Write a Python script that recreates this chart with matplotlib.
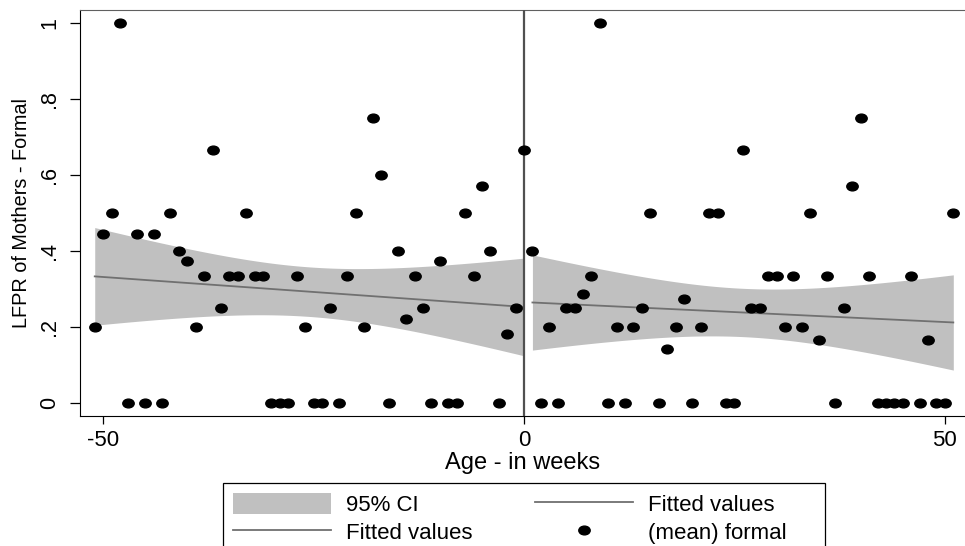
import numpy as np
import matplotlib
matplotlib.use('Agg')
import matplotlib.pyplot as plt
from matplotlib.path import Path
from matplotlib.transforms import Affine2D
from matplotlib.patches import Patch, Rectangle
from matplotlib.lines import Line2D

plt.rcParams['font.family'] = ['Liberation Sans', 'DejaVu Sans']

# binned means, weeks before the cutoff (-51..0) and after (1..51)
weeks_left = list(range(-51, 1))
formal_left = [0.2, 0.444, 0.5, 1.0, 0.0, 0.444, 0.0, 0.444, 0.0, 0.5,
               0.4, 0.375, 0.2, 0.333, 0.667, 0.25, 0.333, 0.333, 0.5, 0.333,
               0.333, 0.0, 0.0, 0.0, 0.333, 0.2, 0.0, 0.0, 0.25, 0.0,
               0.333, 0.5, 0.2, 0.75, 0.6, 0.0, 0.4, 0.222, 0.333, 0.25,
               0.0, 0.375, 0.0, 0.0, 0.5, 0.333, 0.571, 0.4, 0.0, 0.182,
               0.25, 0.667]
weeks_right = list(range(1, 52))
formal_right = [0.4, 0.0, 0.2, 0.0, 0.25, 0.25, 0.286, 0.333, 1.0, 0.0,
                0.2, 0.0, 0.2, 0.25, 0.5, 0.0, 0.143, 0.2, 0.273, 0.0,
                0.2, 0.5, 0.5, 0.0, 0.0, 0.667, 0.25, 0.25, 0.333, 0.333,
                0.2, 0.333, 0.2, 0.5, 0.167, 0.333, 0.0, 0.25, 0.571, 0.75,
                0.333, 0.0, 0.0, 0.0, 0.0, 0.333, 0.0, 0.167, 0.0, 0.0,
                0.5]

ytick_vals = [0, 0.2, 0.4, 0.6, 0.8, 1.0]
ytick_labels = ['0', '.2', '.4', '.6', '.8', '1']
xtick_vals = [-50, 0, 50]

# t(0.975) for n-2 degrees of freedom
t_crit = {50: 2.008559, 49: 2.009575}


def lfitci(x, y):
    # linear fit with 95% CI of the prediction mean (like Stata lfitci)
    x = np.asarray(x, float)
    y = np.asarray(y, float)
    n = len(x)
    X = np.column_stack([np.ones(n), x])
    beta = np.linalg.lstsq(X, y, rcond=None)[0]
    resid = y - X @ beta
    s2 = resid @ resid / (n - 2)
    xtx_inv = np.linalg.inv(X.T @ X)
    grid = np.linspace(x.min(), x.max(), 200)
    G = np.column_stack([np.ones(len(grid)), grid])
    fit = G @ beta
    se = np.sqrt(s2 * np.einsum('ij,jk,ik->i', G, xtx_inv, G))
    t = t_crit[n - 2]
    return grid, fit, fit - t * se, fit + t * se


fig = plt.figure(figsize=(9.65, 5.46), dpi=100)
ax = fig.add_axes([80/965, 130/546, 885/965, 536/546 - 130/546])

ci_col = '#c0c0c0'
fit_col = '#707070'
ell = Path.unit_circle().transformed(Affine2D().scale(1.3, 1.0))

for xs, ys in [(weeks_left, formal_left), (weeks_right, formal_right)]:
    g, f, lo, hi = lfitci(xs, ys)
    ax.fill_between(g, lo, hi, color=ci_col, lw=0, zorder=1)
    ax.plot(g, f, color=fit_col, lw=1.3, zorder=2)

ax.axvline(0, color='#505050', lw=1.6, zorder=3)

ax.plot(weeks_left + weeks_right, formal_left + formal_right, ls='none',
        marker=ell, markersize=8.2, color='black', zorder=4)

ax.set_xlim(-52.75, 52.39)
ax.set_ylim(-0.034, 1.034)
ax.set_xticks(xtick_vals)
ax.set_xticklabels([str(v) for v in xtick_vals], fontsize=16)
ax.set_yticks(ytick_vals)
ax.set_yticklabels(ytick_labels, fontsize=15.5, rotation=90, va='center')
ax.tick_params(axis='y', length=7.2, width=0.9, pad=7)
ax.tick_params(axis='x', length=5.8, width=0.9, pad=4)
ax.spines['right'].set_visible(False)
ax.spines['top'].set_color('#606060')
ax.spines['left'].set_color('black')
ax.spines['bottom'].set_color('black')

ax.set_xlabel('Age - in weeks', fontsize=17, labelpad=1)
ax.set_ylabel('LFPR of Mothers - Formal', fontsize=14.3, labelpad=6)

# legend box (runs off the bottom of the image like the original)
leg_top = 1 - 483/546
fig.add_artist(Rectangle((223/965, -0.05), 602/965, leg_top + 0.05,
                         transform=fig.transFigure, fill=False,
                         ec='black', lw=0.9))

handles = [
    Patch(facecolor=ci_col, edgecolor='none'),
    Line2D([], [], color=fit_col, lw=1.3),
    Line2D([], [], color=fit_col, lw=1.3),
    Line2D([], [], ls='none', marker=ell, markersize=8.2, color='black'),
]
labels = ['95% CI', 'Fitted values', 'Fitted values', '(mean) formal']
leg = fig.legend(handles, labels, ncol=2, loc='upper left',
                 bbox_to_anchor=(223/965, leg_top),
                 fontsize=16, frameon=False,
                 handlelength=4.4, handleheight=1.05, handletextpad=0.7,
                 labelspacing=0.25, borderpad=0.45, borderaxespad=0,
                 columnspacing=2.8)

fig.savefig('out.png', dpi=100)
